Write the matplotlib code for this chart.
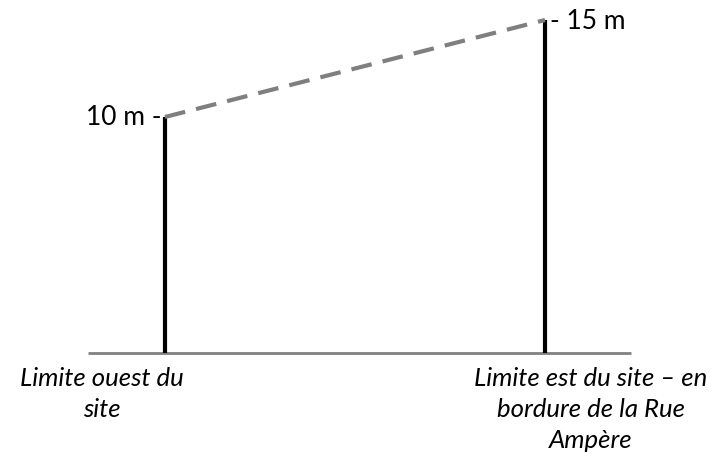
import matplotlib.pyplot as plt

# schematic cross-section: two site limits and their heights
limits = ['Limite ouest du\nsite', 'Limite est du site \u2013 en\nbordure de la Rue\nAmp\u00e8re']
heights = [10, 15]            # (m)
height_labels = ['10 m -', '- 15 m']
ground = -2.16                # drawing baseline (schematic, not to scale)

x_pos = [0, 1]

fig = plt.figure(figsize=(7.13, 4.55), dpi=100)
ax = fig.add_axes([0, 0, 1, 1])
ax.set_xlim(-0.434, 1.442)
ax.set_ylim(-7.42, 16.03)
ax.axis('off')

# ground line
ax.plot([-0.203, 1.226], [ground, ground], color='#808080', lw=2, solid_capstyle='butt')

# vertical limits
for x, h in zip(x_pos, heights):
    ax.plot([x, x], [ground, h], color='black', lw=3, solid_capstyle='butt')

# slope between the two heights
ax.plot(x_pos, heights, color='#7f7f7f', lw=3, linestyle=(0, (5, 2.7)))

# height labels
ax.text(x_pos[0] - 0.008, heights[0], height_labels[0], ha='right', va='center',
        fontsize=19, family='Lato')
ax.text(x_pos[1] + 0.012, heights[1] - 0.1, height_labels[1], ha='left', va='center',
        fontsize=19, family='Lato')

# limit labels
ax.text(-0.166, ground - 0.75, limits[0], ha='center', va='top', fontsize=18.5,
        style='italic', family='Lato', linespacing=1.4)
ax.text(1.121, ground - 0.75, limits[1], ha='center', va='top', fontsize=18.5,
        style='italic', family='Lato', linespacing=1.4)

fig.savefig('out.png', dpi=100)
